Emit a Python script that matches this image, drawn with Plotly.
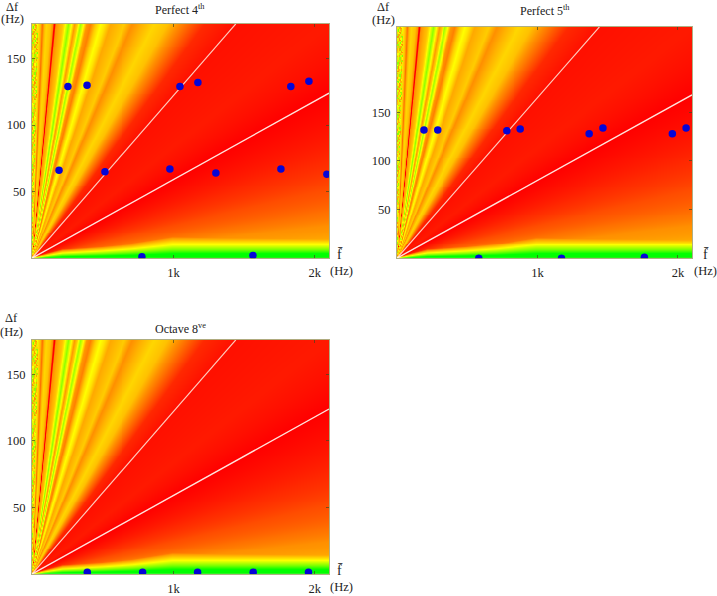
import numpy as np
import plotly.graph_objects as go

# ---------- values ----------
# The shaded field is a visual reconstruction from readings, not the source's computed surface.
# Ray profile: where a ray from the origin meets the top edge (px along a 297x235 panel) -> colour level
ray_pos = [0, 6, 8, 10, 12, 14, 18, 20.5, 22, 23.5, 27, 30, 32, 36, 39, 42, 45, 48, 51, 54, 58, 63, 68, 72, 78,
           84, 92, 100, 110, 122, 135, 146, 160, 172, 204, 250, 297, 350, 418, 520, 700, 1000, 1500, 2100, 4000, 100000]
ray_level = [.45, .45, .38, .22, .36, .42, .38, .28, -.08, .28, .34, .38, .45, .72, .5, .3, .42, .68, .5, .3, .25, .4,
             .5, .45, .33, .36, .40, .28, .35, .42, .38, .28, .17, .08, .03, .04, .05, .03, 0, .03, .08, .15, .22, .28, .34, .36]
# Low band: height above the axis (px) -> level, with a width factor along the frequency axis
band_height = [0, 1.5, 5, 9, 14, 20, 26]
band_level = [1.05, 1.0, 1.0, .75, .5, .3, 0]
band_dx = [0, 30, 70, 100, 140, 297]
band_width = [.05, .4, .55, .7, 1, 1]
# Speckled strip at the far left
speckle = [[.55, .30, .62, .40, .72, .35],
           [.38, .68, .33, .58, .42, .64],
           [.70, .42, .52, .28, .60, .45],
           [.32, .60, .74, .46, .36, .55],
           [.64, .36, .44, .70, .30, .50],
           [.44, .56, .30, .52, .66, .38]]

titles = ["Perfect 4<sup>th</sup>", "Perfect 5<sup>th</sup>", "Octave 8<sup>ve</sup>"]
y_max = [176, 238, 176]
f_max = 2100

p1_f = [254, 389, 1046, 1173, 1830, 1958, 191, 516, 975, 1300, 1760, 2085, 777, 1562]
p1_df = [129, 130, 129, 132, 129, 133, 66, 65, 67, 64, 67, 63, 1, 2]
p2_f = [192, 290, 782, 877, 1368, 1466, 1960, 2058, 582, 1171, 1761]
p2_df = [132, 132, 131, 133, 128, 134, 128, 134, 0, 0, 1]
p3_f = [391, 782, 1171, 1564, 1955]
p3_df = [1.4, 1.4, 1.4, 1.4, 1.4]
points_f = [p1_f, p2_f, p3_f]
points_df = [p1_df, p2_df, p3_df]

upper_line_f = [0, 1441]
upper_line_df = [[0, 176], [0, 238], [0, 176]]
lower_line_f = [0, 2100]
lower_line_df = [[0, 124], [0, 168], [0, 124]]

tick_f = [1000, 2000]
tick_f_text = ["1k", "2k"]
tick_df = [50, 100, 150]

# panel boxes in pixels: left, right, top, bottom
W, H = 717, 596
boxes = [(32, 329, 24, 259), (397, 692, 27, 259), (32, 329, 341, 576)]

colorscale = [[0, "rgb(170,30,0)"], [.125, "rgb(255,0,0)"], [.3333, "rgb(255,128,0)"],
              [.5417, "rgb(255,255,0)"], [.9583, "rgb(0,255,0)"], [1, "rgb(45,190,0)"]]


def field(ymax):
    nx, ny = 300, 240
    f = np.linspace(1, f_max, nx)
    d = np.linspace(0.2, ymax, ny)
    dx = (f / f_max * 297)[None, :].repeat(ny, 0)
    dy = (d / ymax * 235)[:, None].repeat(nx, 1)
    r = dx * 235 / dy
    ray = np.interp(r, ray_pos, ray_level)
    g = np.interp(dx, band_dx, band_width)
    band = np.interp(dy / g, band_height, band_level)
    z = np.maximum(ray, band)
    tile = np.array(speckle)
    noisy = (r < 6) & (dy > 3)
    row = (dy / 2.2).astype(int) % 6
    col = (dx / 1.4 + dy / 9).astype(int) % 6
    z[noisy] = tile[row, col][noisy]
    return f, d, z


fig = go.Figure()
for i, (l, r_, t, b) in enumerate(boxes):
    n = "" if i == 0 else str(i + 1)
    f, d, z = field(y_max[i])
    fig.add_trace(go.Heatmap(x=f, y=d, z=z, colorscale=colorscale, zmin=-.15, zmax=1.05, zsmooth="best",
                             showscale=False, xaxis="x" + n, yaxis="y" + n))
    fig.add_trace(go.Scatter(x=upper_line_f, y=upper_line_df[i], mode="lines",
                             line=dict(color="rgba(255,225,210,.9)", width=1.2), xaxis="x" + n, yaxis="y" + n))
    fig.add_trace(go.Scatter(x=lower_line_f, y=lower_line_df[i], mode="lines",
                             line=dict(color="rgba(255,240,232,.95)", width=1.4), xaxis="x" + n, yaxis="y" + n))
    fig.add_trace(go.Scatter(x=points_f[i], y=points_df[i], mode="markers",
                             marker=dict(color="rgb(5,5,215)", size=7.5, line=dict(width=0)),
                             xaxis="x" + n, yaxis="y" + n))
    common = dict(showgrid=False, zeroline=False, ticks="inside", ticklen=3, tickwidth=1, tickcolor="rgba(70,70,30,.7)",
                  showline=True, linecolor="rgba(110,110,30,.55)", linewidth=1, mirror="ticks",
                  tickfont=dict(family="Liberation Serif", size=12.5, color="#222"))
    fig.layout["xaxis" + n] = dict(domain=[l / W, r_ / W], range=[0, f_max], tickvals=tick_f, ticktext=tick_f_text,
                                   anchor="y" + n, ticklabelstandoff=3, **common)
    fig.layout["yaxis" + n] = dict(domain=[1 - b / H, 1 - t / H], range=[0, y_max[i]], tickvals=tick_df,
                                   anchor="x" + n, ticklabelstandoff=3, **common)


def text(x, y, s, size=12.5):
    fig.add_annotation(xref="paper", yref="paper", x=x / W, y=1 - y / H, text=s, showarrow=False,
                       xanchor="center", yanchor="middle", font=dict(family="Liberation Serif", size=size, color="#222"),
                       borderpad=0)


text(180, 10, titles[0], 12)
text(545, 11, titles[1], 12)
text(180, 330, titles[2], 12)
for x, y1, y2 in [(13, 7, 19), (383, 7, 20), (12, 319, 333)]:
    text(x, y1, "Δf", 12.5)
    text(x, y2, "(Hz)", 12.5)
for x, y1, y2, xh in [(340, 255, 272, 341), (706, 255, 272, 705), (340, 572, 589, 341)]:
    text(x, y1, "f\u0304", 14)
    text(xh, y2, "(Hz)", 12.5)

fig.update_layout(width=W, height=H, margin=dict(l=0, r=0, t=0, b=0), showlegend=False,
                  paper_bgcolor="white", plot_bgcolor="white")
fig.write_html("out.html", config={"displayModeBar": False}, post_script="document.body.style.margin='0';")
